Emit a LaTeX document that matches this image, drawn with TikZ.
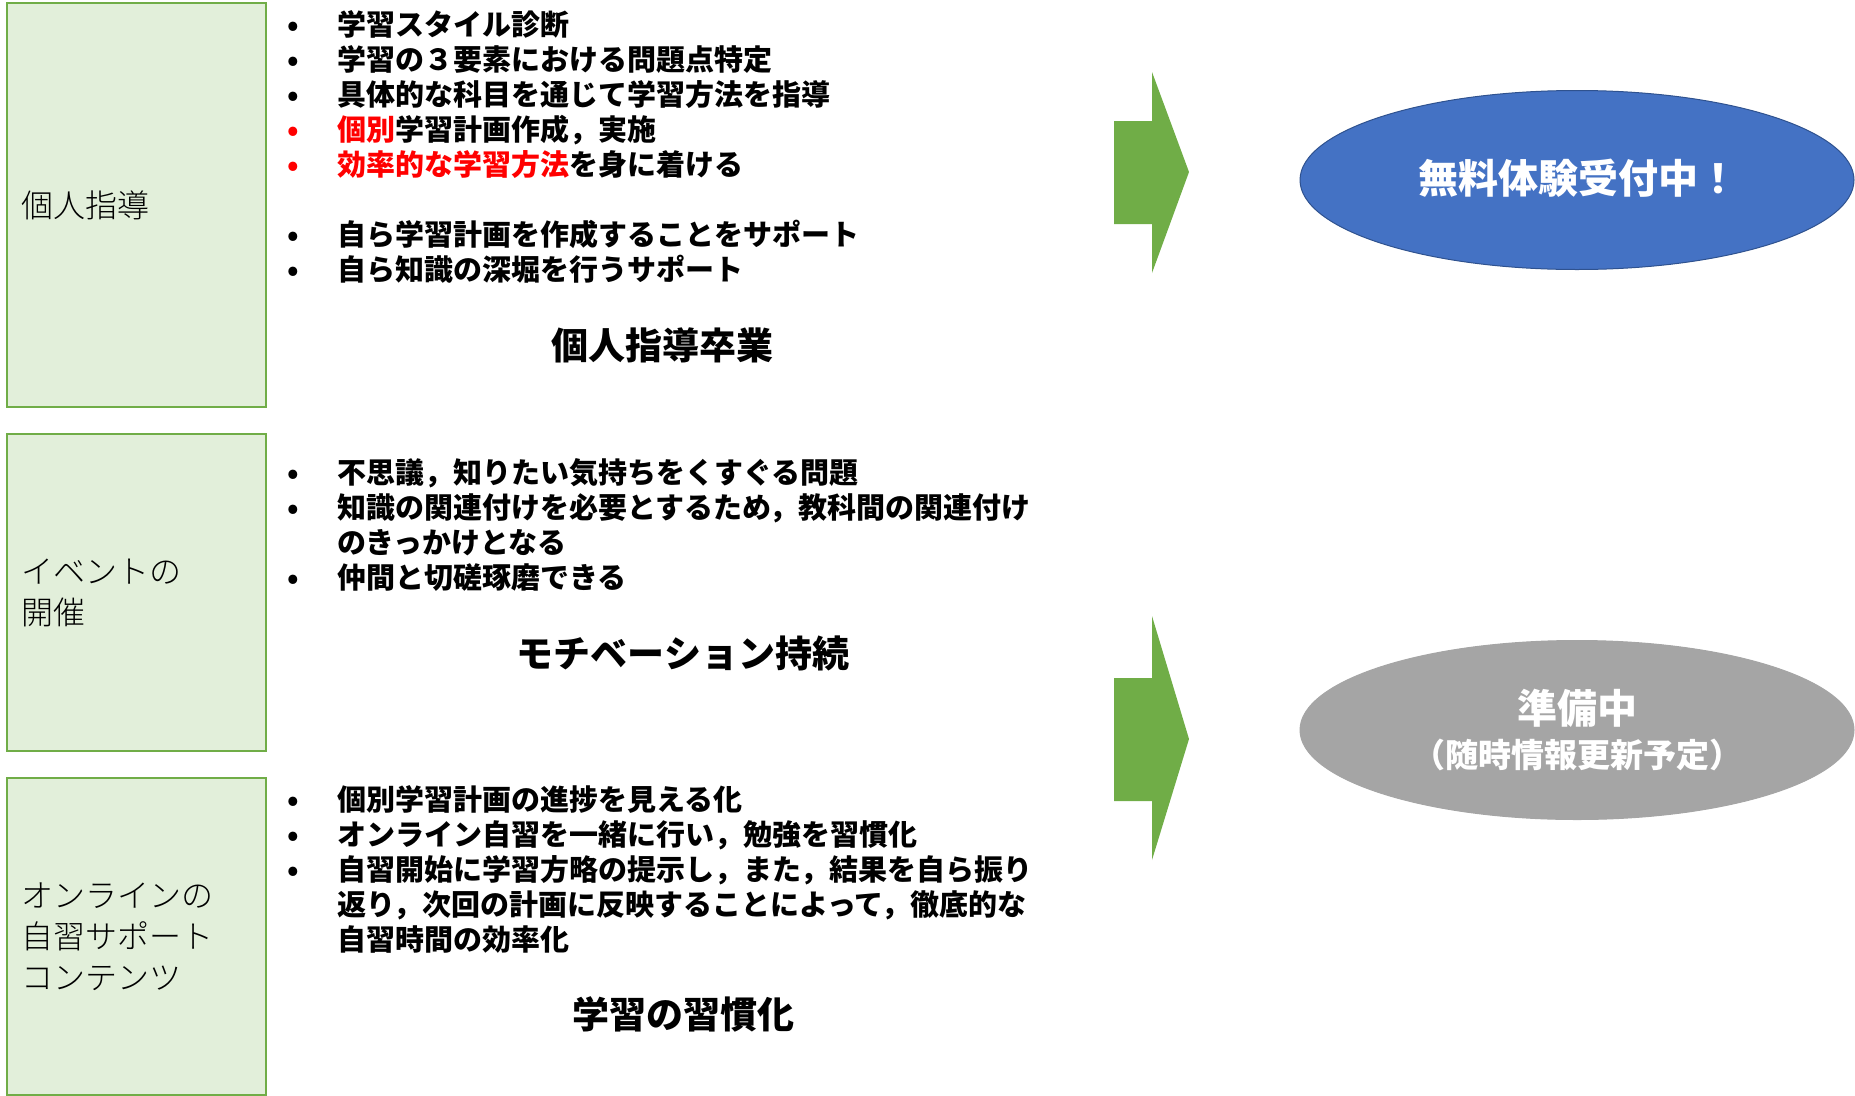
\documentclass[tikz,border=0pt]{standalone}
\usepackage{fontspec}
\setmainfont{Noto Sans CJK JP}
\newfontfamily\lightfont{Noto Sans CJK JP Light}
\usetikzlibrary{shapes.geometric,positioning}
\definecolor{boxgreen}{HTML}{E2EFDA}
\definecolor{linegreen}{HTML}{70AD47}
\definecolor{ovalblue}{HTML}{4472C4}
\definecolor{ovalline}{HTML}{2F528F}
\definecolor{ovalgray}{HTML}{A5A5A5}
\newcommand{\itm}[1]{\makebox[50pt][l]{•}#1}
\newcommand{\ritm}[1]{\makebox[50pt][l]{\textcolor{red}{•}}#1}
\newcommand{\cont}[1]{\hspace*{50pt}#1}
\begin{document}
\begin{tikzpicture}
[x=1pt,y=-1pt,
topic/.style={rectangle,draw=linegreen,line width=2pt,fill=boxgreen,anchor=north west,minimum width=259pt},
topiclabel/.style={anchor=west,align=left,font=\lightfont\fontsize{32}{41}\selectfont},
points/.style={anchor=north west,align=left,font=\bfseries\fontsize{29}{35}\selectfont},
result/.style={font=\bfseries\fontsize{37}{44}\selectfont},
oval/.style={ellipse,minimum width=554pt,minimum height=179pt,text=white,align=center,line width=1pt}
]
\tikzset{every node/.style={inner sep=0pt}}
\useasboundingbox (0,0) rectangle (1855,1095);

% left boxes
\node[topic,minimum height=404pt] (tutor) at (6,2) {};
\node[topic,minimum height=317pt] (event) at (6,433) {};
\node[topic,minimum height=317pt] (online) at (6,777) {};
\node[topiclabel,right=15pt of tutor.west] (tutorlabel) {個人指導};
\node[topiclabel,right=15pt of event.west] (eventlabel) {イベントの\\開催};
\node[topiclabel,right=15pt of online.west] (onlinelabel) {オンラインの\\自習サポート\\コンテンツ};

% bullet lists
\node[points] (tutorpoints) at (287,10.5) {%
\itm{学習スタイル診断}\\
\itm{学習の３要素における問題点特定}\\
\itm{具体的な科目を通じて学習方法を指導}\\
\ritm{\textcolor{red}{個別}学習計画作成，実施}\\
\ritm{\textcolor{red}{効率的な学習方法}を身に着ける}\\[35pt]
\itm{自ら学習計画を作成することをサポート}\\
\itm{自ら知識の深堀を行うサポート}};
\node[points] (eventpoints) at (287,458.5) {%
\itm{不思議，知りたい気持ちをくすぐる問題}\\
\itm{知識の関連付けを必要とするため，教科間の関連付け}\\
\cont{のきっかけとなる}\\
\itm{仲間と切磋琢磨できる}};
\node[points] (onlinepoints) at (287,785.5) {%
\itm{個別学習計画の進捗を見える化}\\
\itm{オンライン自習を一緒に行い，勉強を習慣化}\\
\itm{自習開始に学習方略の提示し，また，結果を自ら振り}\\
\cont{返り，次回の計画に反映することによって，徹底的な}\\
\cont{自習時間の効率化}};

% outcomes
\node[result] (graduate) at (662,345) {個人指導卒業};
\node[result] (motivation) at (683,653) {モチベーション持続};
\node[result] (habit) at (683,1014) {学習の習慣化};

% arrows
\fill[linegreen] (1114,121) -- (1152,121) -- (1152,72) -- (1189,172) -- (1152,273) -- (1152,224) -- (1114,224) -- cycle;
\fill[linegreen] (1114,678) -- (1152,678) -- (1152,616) -- (1189,739) -- (1152,860) -- (1152,801) -- (1114,801) -- cycle;

% status ovals
\node[oval,fill=ovalblue,draw=ovalline] (trial) at (1577,180) {};
\node[text=white,font=\bfseries\fontsize{40}{48}\selectfont] (trialtext) at (1578,178) {無料体験受付中！};
\node[oval,fill=ovalgray,draw=ovalgray] (planned) at (1577,730)
  {{\bfseries\fontsize{40}{47}\selectfont 準備中}\\[10pt]{\bfseries\fontsize{33}{38}\selectfont （随時情報更新予定）}};
\end{tikzpicture}
\end{document}
